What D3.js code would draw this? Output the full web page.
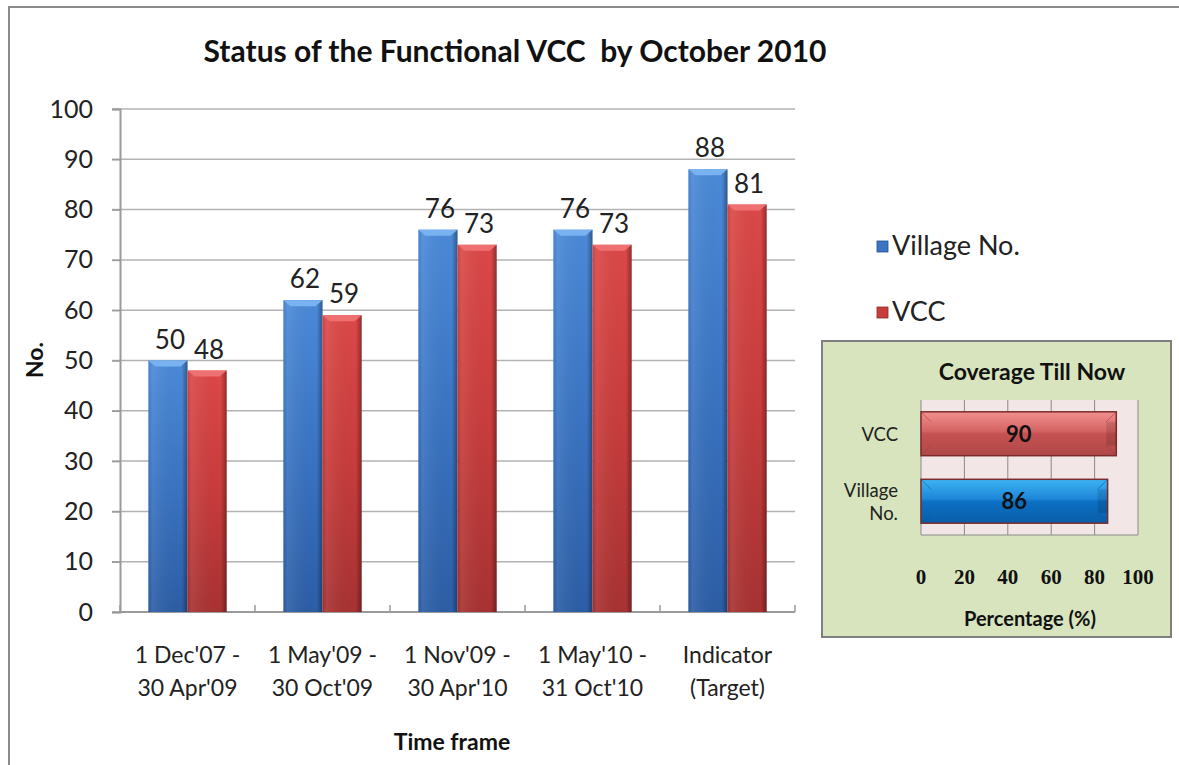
<!DOCTYPE html>
<html>
<head>
<meta charset="utf-8">
<script src="https://cdn.jsdelivr.net/npm/d3@7.9.0/dist/d3.min.js"></script>
<style>
  html, body { margin: 0; padding: 0; background: #fff; }
  svg { display: block; font-family: Lato, "Open Sans", sans-serif; }
</style>
</head>
<body>
<div id="chart"></div>
<script>
// data
const periods = [
  ["1 Dec'07 -", "30 Apr'09"],
  ["1 May'09 -", "30 Oct'09"],
  ["1 Nov'09 -", "30 Apr'10"],
  ["1 May'10 -", "31 Oct'10"],
  ["Indicator", "(Target)"]
];
const seriesNames = ["Village No.", "VCC"];
const villageNo = [50, 62, 76, 76, 88];
const vcc = [48, 59, 73, 73, 81];
const yTicks = [0, 10, 20, 30, 40, 50, 60, 70, 80, 90, 100];

// inset: coverage till now
const coverageCats = [["VCC"], ["Village", "No."]];
const coverageVals = [90, 86];
const coverageTicks = [0, 20, 40, 60, 80, 100];

const W = 1179, H = 765;
const svg = d3.select('#chart').append('svg')
  .attr('width', W).attr('height', H);

// gradients
const defs = svg.append('defs');
function vGrad(id, stops) {
  const g = defs.append('linearGradient').attr('id', id)
    .attr('x1', 0).attr('y1', 0).attr('x2', 0).attr('y2', 1);
  stops.forEach(([o, c]) => g.append('stop').attr('offset', o).attr('stop-color', c));
}
function hGrad(id, stops) {
  const g = defs.append('linearGradient').attr('id', id)
    .attr('x1', 0).attr('y1', 0).attr('x2', 1).attr('y2', 0);
  stops.forEach(([o, c, a]) => g.append('stop').attr('offset', o).attr('stop-color', c).attr('stop-opacity', a));
}
vGrad('blueBar', [[0, '#4b8ad8'], [0.5, '#3a74c2'], [1, '#2c5ea6']]);
vGrad('redBar', [[0, '#dc4848'], [0.5, '#c83c3c'], [1, '#a83232']]);
hGrad('edge', [[0, '#000', 0.05], [0.1, '#fff', 0.08], [0.85, '#000', 0], [1, '#000', 0.35]]);
vGrad('insRed', [[0, '#f39090'], [0.45, '#d46262'], [0.5, '#c65252'], [1, '#b04848']]);
vGrad('insBlue', [[0, '#3cb4f4'], [0.45, '#1e86d8'], [0.5, '#0c70c4'], [1, '#0a5ea8']]);

// outer chart border
svg.append('rect')
  .attr('x', 9).attr('y', 7).attr('width', W + 20).attr('height', H + 20)
  .attr('fill', '#fff').attr('stroke', '#8c8c8c').attr('stroke-width', 2);

// title
svg.append('text')
  .attr('x', 515).attr('y', 62)
  .attr('text-anchor', 'middle')
  .style('font-size', '30px').style('font-weight', 'bold').style('fill', '#111')
  .text('Status of the Functional VCC\u00a0 by October 2010');

// scales
const x0 = d3.scaleBand().domain(d3.range(periods.length))
  .range([120, 795]).paddingInner(0.42).paddingOuter(0.21);
const x1 = d3.scaleBand().domain(seriesNames).range([0, x0.bandwidth()]);
const y = d3.scaleLinear().domain([0, 100]).range([612, 109]);

// gridlines
svg.append('g')
  .selectAll('line').data(yTicks).join('line')
  .attr('x1', 112).attr('x2', 795)
  .attr('y1', d => y(d)).attr('y2', d => y(d))
  .attr('stroke', '#b3b3b3').attr('stroke-width', 1.5);

// y axis
const yAxis = svg.append('g')
  .attr('transform', 'translate(120,0)')
  .call(d3.axisLeft(y).tickValues(yTicks).tickSize(8).tickPadding(19));
yAxis.select('.domain').attr('stroke', '#9a9a9a').attr('stroke-width', 2);
yAxis.selectAll('.tick line').attr('stroke', '#9a9a9a').attr('stroke-width', 1.5);
yAxis.selectAll('text').style('font-size', '25px').style('fill', '#222')
  .style('font-family', 'Lato, sans-serif');

svg.append('text')
  .attr('transform', 'translate(43,360) rotate(-90)')
  .attr('text-anchor', 'middle')
  .style('font-size', '23px').style('font-weight', 'bold').style('fill', '#111')
  .text('No.');

// x axis (category boundaries as ticks)
const bounds = d3.range(periods.length + 1).map(i => 120 + i * x0.step());
const xg = svg.append('g');
xg.append('line')
  .attr('x1', 120).attr('x2', 795).attr('y1', y(0)).attr('y2', y(0))
  .attr('stroke', '#9a9a9a').attr('stroke-width', 2);
xg.selectAll('line.tk').data(bounds).join('line').attr('class', 'tk')
  .attr('x1', d => d).attr('x2', d => d)
  .attr('y1', y(0)).attr('y2', y(0) - 7)
  .attr('stroke', '#9a9a9a').attr('stroke-width', 1.5);
xg.selectAll('text.cat').data(periods).join('text').attr('class', 'cat')
  .attr('text-anchor', 'middle')
  .attr('x', (d, i) => x0(i) + x0.bandwidth() / 2)
  .attr('y', 663)
  .style('font-size', '23px').style('fill', '#222')
  .each(function (d) {
    d3.select(this).selectAll('tspan').data(d).join('tspan')
      .attr('x', d3.select(this).attr('x'))
      .attr('dy', (t, j) => j ? 33 : 0)
      .text(t => t);
  });
svg.append('text')
  .attr('x', 452).attr('y', 750)
  .attr('text-anchor', 'middle')
  .style('font-size', '23px').style('font-weight', 'bold').style('fill', '#111')
  .text('Time frame');

// bars
const rows = periods.map((p, i) => [
  { s: 'Village No.', v: villageNo[i], i },
  { s: 'VCC', v: vcc[i], i }
]).flat();

const bars = svg.append('g').selectAll('g').data(rows).join('g')
  .attr('transform', d => `translate(${x0(d.i) + x1(d.s)},0)`);
const bw = x1.bandwidth();
bars.append('rect')
  .attr('y', d => y(d.v)).attr('width', bw).attr('height', d => y(0) - y(d.v))
  .attr('fill', d => d.s === 'VCC' ? 'url(#redBar)' : 'url(#blueBar)');
bars.append('rect')
  .attr('y', d => y(d.v)).attr('width', bw).attr('height', d => y(0) - y(d.v))
  .attr('fill', 'url(#edge)');
// top bevel
bars.append('path')
  .attr('d', d => {
    const t = y(d.v);
    return `M0,${t} L${bw},${t} L${bw - 7},${t + 6} L7,${t + 6} Z`;
  })
  .attr('fill', d => d.s === 'VCC' ? '#ee7070' : '#78b2f0');
bars.append('text')
  .attr('x', bw / 2 + 2).attr('y', d => y(d.v) - 12)
  .attr('text-anchor', 'middle')
  .style('font-size', '26px').style('fill', '#222')
  .text(d => d.v);

// legend
const legend = svg.append('g').selectAll('g').data(seriesNames).join('g')
  .attr('transform', (d, i) => `translate(877,${241 + i * 66})`);
legend.append('rect').attr('width', 11).attr('height', 11)
  .attr('fill', (d, i) => i ? '#c83c3c' : '#3a74c2')
  .attr('stroke', (d, i) => i ? '#8a2a2a' : '#244f8c').attr('stroke-width', 0.8);
legend.append('text').attr('x', 15).attr('y', 14)
  .style('font-size', '27px').style('fill', '#222')
  .text(d => d);

// inset chart
const inset = svg.append('g');
inset.append('rect')
  .attr('x', 822).attr('y', 341).attr('width', 349).attr('height', 296)
  .attr('fill', '#d7e4bd').attr('stroke', '#7f7f7f').attr('stroke-width', 2);
inset.append('text')
  .attr('x', 1032).attr('y', 380).attr('text-anchor', 'middle')
  .style('font-size', '23px').style('font-weight', 'bold').style('fill', '#111')
  .text('Coverage Till Now');

const cx = d3.scaleLinear().domain([0, 100]).range([921, 1138]);
const cy = d3.scaleBand().domain(d3.range(coverageVals.length))
  .range([400, 535]).paddingInner(0.35).paddingOuter(0.175);

inset.append('rect')
  .attr('x', cx(0)).attr('y', 400).attr('width', cx(100) - cx(0)).attr('height', 135)
  .attr('fill', '#f2e6e6');
inset.append('g').selectAll('line').data(coverageTicks).join('line')
  .attr('x1', d => cx(d)).attr('x2', d => cx(d)).attr('y1', 400).attr('y2', 535)
  .attr('stroke', '#8a8a8a').attr('stroke-width', 1);
inset.append('line')
  .attr('x1', cx(0)).attr('x2', cx(100)).attr('y1', 535).attr('y2', 535)
  .attr('stroke', '#8a8a8a').attr('stroke-width', 1);

const cb = inset.append('g').selectAll('g').data(coverageVals).join('g')
  .attr('transform', (d, i) => `translate(${cx(0)},${cy(i)})`);
const bh = cy.bandwidth();
cb.append('rect')
  .attr('width', d => cx(d) - cx(0)).attr('height', bh)
  .attr('fill', (d, i) => i ? 'url(#insBlue)' : 'url(#insRed)')
  .attr('stroke', '#7a2c2c').attr('stroke-width', 1.5);
// bevel facets
const bev = 10;
cb.append('path')
  .attr('d', d => {
    const w = cx(d) - cx(0);
    return `M0,0 L${bev},${bev} M${w},0 L${w - bev},${bev} M0,${bh} L${bev},${bh - bev} M${w},${bh} L${w - bev},${bh - bev}`;
  })
  .attr('stroke', (d, i) => i ? '#0a5aa0' : '#a04040').attr('stroke-width', 1).attr('opacity', 0.6);
cb.append('rect')
  .attr('x', d => cx(d) - cx(0) - bev).attr('y', bev)
  .attr('width', bev).attr('height', bh - 2 * bev)
  .attr('fill', '#000').attr('opacity', 0.12);
cb.append('text')
  .attr('x', d => (cx(d) - cx(0)) / 2).attr('y', bh / 2 + 8)
  .attr('text-anchor', 'middle')
  .style('font-size', '22px').style('font-weight', 'bold').style('fill', '#111')
  .text(d => d);

inset.append('g').selectAll('text').data(coverageCats).join('text')
  .attr('text-anchor', 'end')
  .attr('x', 898)
  .attr('y', (d, i) => cy(i) + bh / 2 + 7 - (d.length - 1) * 11)
  .style('font-size', '18.5px').style('fill', '#222')
  .each(function (d) {
    d3.select(this).selectAll('tspan').data(d).join('tspan')
      .attr('x', 898).attr('dy', (t, j) => j ? 23 : 0).text(t => t);
  });

inset.append('g').selectAll('text').data(coverageTicks).join('text')
  .attr('x', d => cx(d)).attr('y', 584)
  .attr('text-anchor', 'middle')
  .style('font-family', '"Liberation Serif", "DejaVu Serif", serif')
  .style('font-size', '21px').style('font-weight', 'bold').style('fill', '#111')
  .text(d => d);
inset.append('text')
  .attr('x', 1030).attr('y', 626).attr('text-anchor', 'middle')
  .style('font-size', '20px').style('font-weight', 'bold').style('fill', '#111')
  .text('Percentage (%)');
</script>
</body>
</html>
